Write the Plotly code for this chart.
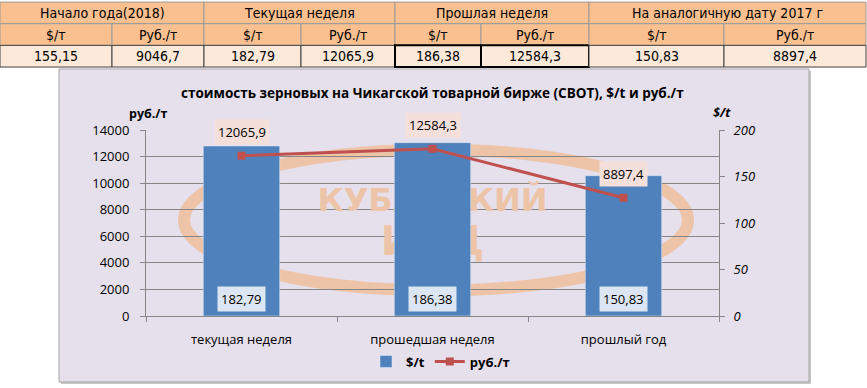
import plotly.graph_objects as go

# ---------------- data ----------------
table_groups = ["Начало года(2018)", "Текущая неделя", "Прошлая неделя", "На аналогичную дату 2017 г"]
table_units = ["$/т", "Руб./т"]
table_usd = [155.15, 182.79, 186.38, 150.83]
table_rub = [9046.7, 12065.9, 12584.3, 8897.4]

categories = ["текущая неделя", "прошедшая неделя", "прошлый год"]
usd_values = [182.79, 186.38, 150.83]
rub_values = [12065.9, 12584.3, 8897.4]

bar_name = "$/t"
line_name = "руб./т"
chart_title = "стоимость зерновых на Чикагской товарной бирже (CBOT), $/t и руб./т"
left_axis_title = "руб./т"
right_axis_title = "$/t"
watermark_lines = ["КУБАНСКИЙ", "ИКЦ"]

# ---------------- geometry helpers ----------------
W, H = 867, 388
PL, PR, PT, PB = 146, 719, 130, 319


def px(x):
    return (x - PL) / (PR - PL)


def py(y):
    return (PB - y) / (PB - PT)


def fmt(v, d):
    return f"{v:.{d}f}".replace(".", ",")


FONT = "Open Sans, Noto Sans, DejaVu Sans, sans-serif"
TFONT = "DejaVu Sans Condensed, DejaVu Sans, sans-serif"
GRID = "#868686"
BAR_C = "#4F81BD"
LINE_C = "#C0504D"
WM_C = "#EDC4A8"

fig = go.Figure()

# watermark text (below bars, in the base subplot)
fig.add_trace(go.Scatter(
    x=[categories[1], categories[1]], y=[PB - 204, PB - 247],
    mode="text", text=watermark_lines,
    textfont=dict(size=[32, 40], color=WM_C, family="DejaVu Sans", weight="bold"),
    showlegend=False, hoverinfo="skip", yaxis="y"))

fig.add_trace(go.Bar(
    x=categories, y=usd_values, name=bar_name, marker_color=BAR_C,
    width=0.4, yaxis="y2", hoverinfo="x+y"))

fig.add_trace(go.Scatter(
    x=categories, y=rub_values, name=line_name, mode="lines+markers",
    line=dict(color=LINE_C, width=3), marker=dict(symbol="square", size=8, color=LINE_C),
    yaxis="y3"))

shapes = []
annotations = []


def paper_text(x, y, text, font):
    annotations.append(dict(x=px(x), y=py(y), xref="paper", yref="paper", text=text,
                            showarrow=False, xanchor="center", yanchor="middle", font=font))


# chart background frame
shapes.append(dict(type="rect", xref="paper", yref="paper", x0=px(61), x1=px(811), y0=py(388), y1=py(70),
                   fillcolor="#C8C8C8", line=dict(width=0), layer="below"))
shapes.append(dict(type="rect", xref="paper", yref="paper", x0=px(59), x1=px(809), y0=py(386), y1=py(68),
                   fillcolor="#E6E0EC", line=dict(color="#A6A6A6", width=1), layer="below"))
# watermark ring
shapes.append(dict(type="circle", xref="paper", yref="paper", x0=px(184), x1=px(688), y0=py(293), y1=py(150),
                   fillcolor="rgba(0,0,0,0)", line=dict(color=WM_C, width=12), layer="below"))

# ---------------- table ----------------
col_edges = [0, 112, 204, 301, 395, 481, 589, 724, 866]
row_edges = [0, 22, 44, 66]
HEAD_C = "#FAC090"
VAL_C = "#FDE9D9"
tfont = dict(family=TFONT, size=14, color="#000")
for g, name in enumerate(table_groups):
    x0, x1 = col_edges[2 * g], col_edges[2 * g + 2]
    shapes.append(dict(type="rect", xref="paper", yref="paper", x0=px(x0), x1=px(x1),
                       y0=py(row_edges[1]), y1=py(row_edges[0]), fillcolor=HEAD_C,
                       line=dict(color="#9A9A9A", width=1), layer="below"))
    paper_text((x0 + x1) / 2, (row_edges[0] + row_edges[1]) / 2, name, tfont)
    vals = [fmt(table_usd[g], 2), fmt(table_rub[g], 1)]
    for k in range(2):
        cx0, cx1 = col_edges[2 * g + k], col_edges[2 * g + k + 1]
        shapes.append(dict(type="rect", xref="paper", yref="paper", x0=px(cx0), x1=px(cx1),
                           y0=py(row_edges[2]), y1=py(row_edges[1]), fillcolor=HEAD_C,
                           line=dict(color="#9A9A9A", width=1), layer="below"))
        paper_text((cx0 + cx1) / 2, (row_edges[1] + row_edges[2]) / 2, table_units[k], tfont)
        thick = (g == 2)
        shapes.append(dict(type="rect", xref="paper", yref="paper", x0=px(cx0), x1=px(cx1),
                           y0=py(row_edges[3]), y1=py(row_edges[2]), fillcolor=VAL_C,
                           line=dict(color="#000" if thick else "#404040", width=2 if thick else 1),
                           layer="below"))
        paper_text((cx0 + cx1) / 2, (row_edges[2] + row_edges[3]) / 2, vals[k], tfont)

# ---------------- chart texts ----------------
paper_text(432, 92, f"<b>{chart_title}</b>", dict(family=FONT, size=13.5, color="#000"))
paper_text(148, 113, f"<b>{left_axis_title}</b>", dict(family=FONT, size=12.5, color="#000"))
paper_text(722, 112, f"<b><i>{right_axis_title}</i></b>", dict(family=FONT, size=12.5, color="#000"))

for c, v in zip(categories, usd_values):
    annotations.append(dict(x=c, y=0, xref="x", yref="y2", text=fmt(v, 2), showarrow=False,
                            xanchor="center", yanchor="bottom", yshift=4, bgcolor="#DCE6F2", borderpad=3,
                            font=dict(family=FONT, size=13, color="#000")))
for c, v in zip(categories, rub_values):
    annotations.append(dict(x=c, y=v, xref="x", yref="y3", text=fmt(v, 1), showarrow=False,
                            xanchor="center", yanchor="bottom", yshift=11, bgcolor="#F5DFDB", borderpad=3,
                            font=dict(family=FONT, size=13, color="#000")))

fig.update_layout(
    width=W, height=H,
    margin=dict(l=PL, r=W - PR, t=PT, b=H - PB, pad=0),
    paper_bgcolor="white", plot_bgcolor="rgba(0,0,0,0)",
    showlegend=True,
    legend=dict(orientation="h", x=px(366), y=py(350), xanchor="left", yanchor="top",
                font=dict(family=FONT, size=13, color="#000", weight="bold"),
                bgcolor="rgba(0,0,0,0)", itemwidth=30, traceorder="normal"),
    xaxis=dict(type="category", categoryorder="array", categoryarray=categories, range=[-0.5, 2.5],
               showline=True, linecolor=GRID, linewidth=1,
               ticks="outside", tickson="boundaries", ticklen=5, tickcolor=GRID, showgrid=False,
               ticklabelstandoff=11,
               tickfont=dict(family=FONT, size=13, color="#000"), fixedrange=True),
    yaxis=dict(range=[0, PB - PT], visible=False, fixedrange=True),
    yaxis2=dict(overlaying="y", side="right", range=[0, 200], dtick=50, showgrid=False, zeroline=False,
                showline=True, linecolor=GRID, ticks="outside", ticklen=5, tickcolor=GRID,
                ticklabelstandoff=6,
                tickfont=dict(family=FONT, size=13, color="#000", style="italic"), fixedrange=True),
    yaxis3=dict(overlaying="y", side="left", range=[0, 14000], dtick=2000, tickformat="d",
                showgrid=True, gridcolor=GRID, gridwidth=1, zeroline=False,
                showline=True, linecolor=GRID, ticks="outside", ticklen=5, tickcolor=GRID,
                ticklabelstandoff=8,
                tickfont=dict(family=FONT, size=13, color="#000"), fixedrange=True),
    shapes=shapes, annotations=annotations,
)

fig.write_html("out.html", config={"displayModeBar": False},
               post_script="document.body.style.margin='0';")
